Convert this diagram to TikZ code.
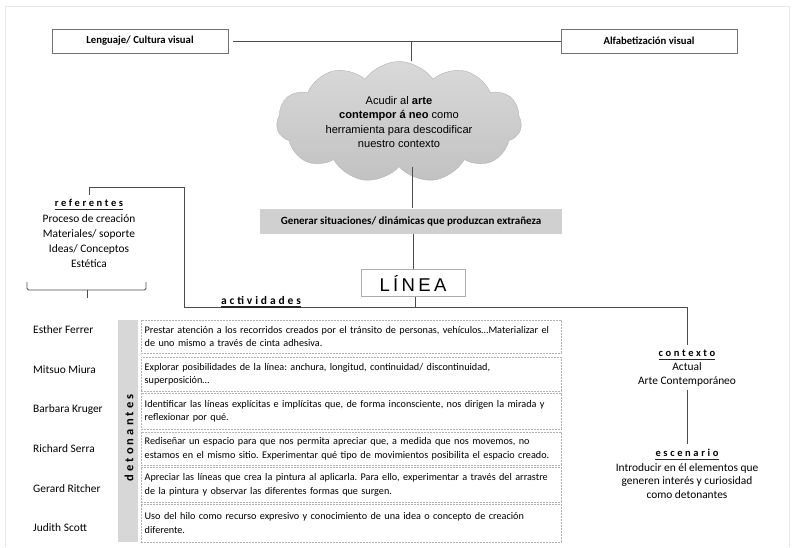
\documentclass[tikz,border=0pt]{standalone}
\usepackage{fontspec}
\setmainfont{Carlito}
\newfontfamily\cloudfont{Liberation Sans}
\newfontfamily\spacedfont[LetterSpace=25]{Carlito}
\newfontfamily\lineafont[LetterSpace=18]{Liberation Sans}
\frenchspacing
\usepackage{tikz}
\usetikzlibrary{shapes.symbols, positioning}

\begin{document}
\begin{tikzpicture}[x=1pt, y=-1pt,
        conn/.style={draw=black!70, line width=0.9pt},
        ulline/.style={draw=black!85, line width=1.3pt},
        headbox/.style={draw=black!55, line width=0.8pt, minimum width=176pt, minimum height=24pt, font=\fontsize{10.7}{12}\selectfont\bfseries},
        idea/.style={cloud, cloud puffs=11, cloud puff arc=110, aspect=2.2, draw=gray!60, top color=gray!30, bottom color=gray!48, minimum width=245pt, minimum height=110pt, align=center, inner sep=0pt, font=\cloudfont\fontsize{11.1}{14.5}\selectfont},
        graybox/.style={fill=gray!37, minimum width=302pt, minimum height=25pt, font=\fontsize{11}{13}\selectfont\bfseries},
        lineabox/.style={draw=gray!65, line width=0.8pt, minimum width=104pt, minimum height=27pt, font=\lineafont\fontsize{18.5}{20}\selectfont},
        tag/.style={inner sep=0pt, font=\spacedfont\bfseries\fontsize{10.5}{12}\selectfont},
        plain/.style={align=center, inner sep=0pt, font=\fontsize{11.4}{15.3}\selectfont},
        artist/.style={anchor=west, inner sep=0pt, font=\fontsize{11.4}{13}\selectfont},
        actbox/.style={draw=gray!60, dash pattern=on 2pt off 1pt, anchor=north west, text width=413pt, inner xsep=3.5pt, inner ysep=2pt, align=left, font=\fontsize{10.2}{13.5}\selectfont},
        detbar/.style={fill=gray!31, minimum width=20pt, minimum height=222pt, inner sep=0pt}
    ]
        \useasboundingbox (0,0) rectangle (798,547);
        % faint frame
        \draw[gray!18, line width=0.6pt] (5,547) -- (5,6) -- (789,6) -- (789,547);

        % top row
        \node[headbox] (lenguaje) at (140,41) {Lenguaje/ Cultura visual};
        \node[headbox] (alfab) at (649,41) {Alfabetización visual};
        \node[idea] (acudir) at (399,122) {Acudir al \textbf{arte}\\ \textbf{contempor á neo} como\\ herramienta para descodificar\\ nuestro contexto};
        \node[graybox] (generar) at (411,221) {Generar situaciones/ dinámicas que produzcan extrañeza};
        \node[lineabox] (linea) at (413,283) {LÍNEA};

        \draw[conn, shorten <=5pt] (lenguaje.east) -- (alfab.west);
        \draw[conn] (acudir.north -| 411,0) -- (lenguaje.east -| 411,0);
        \draw[conn] (acudir.south -| 412,0) -- (generar.north -| 412,0);
        \draw[conn] (generar.south -| 413,0) -- (linea.north -| 413,0);

        % contexto y escenario
        \node[tag] (ctx) at (687,353) {contexto};
        \node[plain, below=6pt of ctx, font=\fontsize{11.4}{14}\selectfont] (ctxtxt) {Actual\\ Arte Contemporáneo};
        \node[tag] (esc) at (687,453) {escenario};
        \node[plain, below=6pt of esc, font=\fontsize{11.4}{13.5}\selectfont] (esctxt) {Introducir en él elementos que\\ generen interés y curiosidad\\ como detonantes};
        \draw[conn] ([yshift=-3pt]ctxtxt.south) -- ([yshift=5pt]esc.north);

        % actividades
        \node[tag, anchor=base, font=\spacedfont\bfseries\fontsize{11.5}{13}\selectfont] (activ) at (261,304) {actividades};
        \draw[conn] (linea.south -| 415,0) -- ([yshift=-2.8pt]activ.south -| 415,0);
        \draw[conn] ([yshift=-2.8pt]activ.south east) -| ([yshift=4pt]ctx.north);

        % referentes
        \node[tag] (reftit) at (89,203) {referentes};
        \node[plain, below=7pt of reftit] (reflist) {Proceso de creación\\ Materiales/ soporte\\ Ideas/ Conceptos\\ Estética};
        \coordinate (refbend) at (184,187);
        \draw[conn] ([yshift=-2.8pt]activ.south west) -| (refbend) -| ([yshift=4pt]reftit.north);
        \draw[conn, rounded corners=1.5pt] (27,282) -- (27,290) -- (146,290) -- (146,282);
        \draw[conn] (87,290) -- (87,298);

        % underlines
        \draw[ulline] ([yshift=-2.8pt]reftit.south west) -- ([yshift=-2.8pt]reftit.south east);
        \draw[ulline] ([yshift=-2.8pt]activ.south west) -- ([yshift=-2.8pt]activ.south east);
        \draw[ulline] ([yshift=-2.8pt]ctx.south west) -- ([yshift=-2.8pt]ctx.south east);
        \draw[ulline] ([yshift=-2.8pt]esc.south west) -- ([yshift=-2.8pt]esc.south east);

        % artistas
        \node[artist] (esther) at (33,330) {Esther Ferrer};
        \node[artist] (mitsuo) at (33,370) {Mitsuo Miura};
        \node[artist] (barbara) at (33,410) {Barbara Kruger};
        \node[artist] (richard) at (33,449) {Richard Serra};
        \node[artist] (gerard) at (33,489) {Gerard Ritcher};
        \node[artist] (judith) at (33,528) {Judith Scott};

        \node[detbar] (detbar) at (128,431) {};
        \node[tag, rotate=90, font=\spacedfont\bfseries\fontsize{12.5}{14}\selectfont] (deton) at (129,438) {detonantes};

        % actividades propuestas
        \node[actbox, minimum height=33pt] (act1) at (141,320) {Prestar atención a los recorridos creados por el tránsito de personas, vehículos…Materializar el\\ de uno mismo a través de cinta adhesiva.};
        \node[actbox, minimum height=34pt] (act2) at (141,357) {Explorar posibilidades de la línea: anchura, longitud, continuidad/ discontinuidad,\\ superposición…};
        \node[actbox, minimum height=36pt] (act3) at (141,393) {Identificar las líneas explícitas e implícitas que, de forma inconsciente, nos dirigen la mirada y\\ reflexionar por qué.};
        \node[actbox, minimum height=33pt] (act4) at (141,432) {Rediseñar un espacio para que nos permita apreciar que, a medida que nos movemos, no\\ estamos en el mismo sitio. Experimentar qué tipo de movimientos posibilita el espacio creado.};
        \node[actbox, minimum height=35pt] (act5) at (141,467) {Apreciar las líneas que crea la pintura al aplicarla. Para ello, experimentar a través del arrastre\\ de la pintura y observar las diferentes formas que surgen.};
        \node[actbox, minimum height=38pt] (act6) at (141,504) {Uso del hilo como recurso expresivo y conocimiento de una idea o concepto de creación\\ diferente.};
    \end{tikzpicture}
\end{document}
